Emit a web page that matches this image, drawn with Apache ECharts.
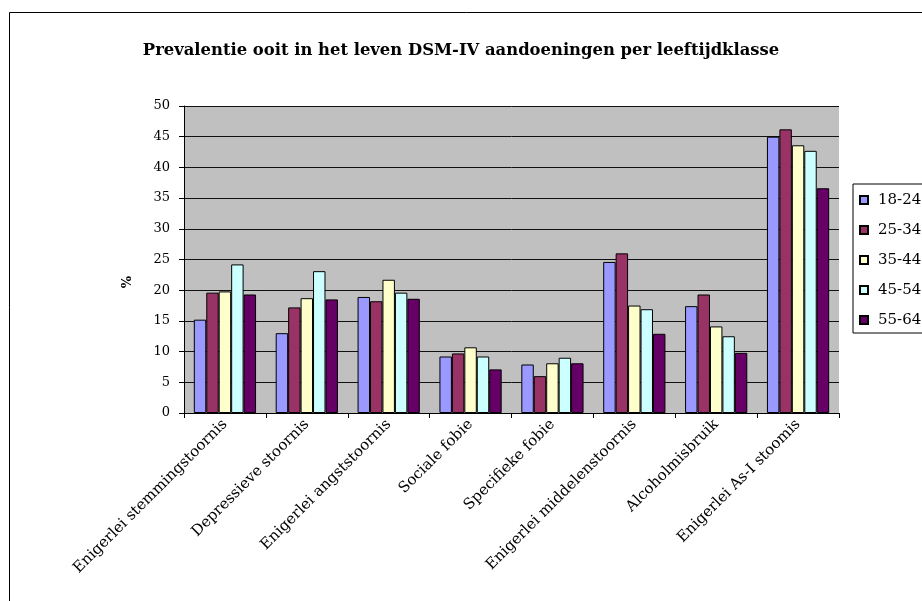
<!DOCTYPE html>
<html>
<head>
<meta charset="utf-8">
<script src="https://cdn.jsdelivr.net/npm/echarts@6/dist/echarts.min.js"></script>
<style>
  html, body { margin: 0; padding: 0; background: #fff; }
  #chart { width: 922px; height: 601px; }
</style>
</head>
<body>
<div id="chart"></div>
<script>
// Lifetime prevalence (%) of DSM-IV disorders, per age class
const categories = [
  'Enigerlei stemmingstoornis',
  'Depressieve stoornis',
  'Enigerlei angststoornis',
  'Sociale fobie',
  'Specifieke fobie',
  'Enigerlei middelenstoornis',
  'Alcoholmisbruik',
  'Enigerlei As-I stoomis'
];
const ageClasses = ['18-24', '25-34', '35-44', '45-54', '55-64'];
const age18_24 = [15.2, 13.0, 18.9, 9.2, 7.9, 24.6, 17.4, 45.0];
const age25_34 = [19.6, 17.2, 18.2, 9.7, 6.0, 26.0, 19.3, 46.2];
const age35_44 = [19.8, 18.7, 21.7, 10.7, 8.1, 17.5, 14.1, 43.6];
const age45_54 = [24.2, 23.1, 19.6, 9.2, 9.0, 16.9, 12.5, 42.7];
const age55_64 = [19.3, 18.5, 18.6, 7.1, 8.1, 12.9, 9.8, 36.6];
const yTicks = [0, 5, 10, 15, 20, 25, 30, 35, 40, 45, 50];

const seriesValues = [age18_24, age25_34, age35_44, age45_54, age55_64];
const seriesColors = ['#9999FF', '#993366', '#FFFFCC', '#CCFFFF', '#660066'];
const serif = '"DejaVu Serif", "Liberation Serif", serif';

const chart = echarts.init(document.getElementById('chart'), null, { renderer: 'canvas' });

chart.setOption({
  animation: false,
  backgroundColor: '#ffffff',
  title: {
    text: 'Prevalentie ooit in het leven DSM-IV aandoeningen per leeftijdklasse',
    left: 'center',
    top: 38,
    textStyle: { fontFamily: serif, fontSize: 16.4, fontWeight: 'bold', color: '#000' }
  },
  legend: {
    orient: 'vertical',
    left: 853,
    top: 184,
    icon: 'rect',
    itemWidth: 8,
    itemHeight: 8,
    itemGap: 14,
    padding: [8, 40, 5, 6],
    borderColor: '#000',
    borderWidth: 1,
    backgroundColor: '#fff',
    data: ageClasses,
    textStyle: { fontFamily: serif, fontSize: 15, color: '#000', lineHeight: 16, padding: [0, 0, 0, 5] }
  },
  grid: { left: 184, top: 106, right: 83, bottom: 188, backgroundColor: '#C0C0C0', show: true, borderWidth: 0 },
  xAxis: {
    type: 'category',
    data: categories,
    axisLine: { lineStyle: { color: '#000', width: 1 } },
    axisTick: { show: true, length: 5, lineStyle: { color: '#000' } },
    axisLabel: {
      rotate: 45,
      margin: 9,
      fontFamily: serif,
      fontSize: 15,
      color: '#000',
      interval: 0
    }
  },
  yAxis: {
    type: 'value',
    min: yTicks[0],
    max: yTicks[yTicks.length - 1],
    interval: 5,
    axisLine: { show: true, lineStyle: { color: '#000', width: 1 } },
    axisTick: { show: true, length: 5, lineStyle: { color: '#000' } },
    axisLabel: { fontFamily: serif, fontSize: 13, color: '#000', margin: 14 },
    splitLine: { show: true, lineStyle: { color: '#111', width: 1 } }
  },
  series: ageClasses.map((name, i) => ({
    name: name,
    type: 'bar',
    data: seriesValues[i],
    barGap: '0%',
    barCategoryGap: '24%',
    itemStyle: { color: seriesColors[i], borderColor: '#000', borderWidth: 1 }
  })),
  graphic: [
    {
      type: 'rect',
      shape: { x: 9.5, y: 12.5, width: 960, height: 640 },
      style: { fill: 'none', stroke: '#000', lineWidth: 1 },
      silent: true,
      z: -1
    },
    {
      type: 'text',
      left: 121,
      top: 276,
      rotation: Math.PI / 2,
      style: { text: '%', font: 'bold 13px "DejaVu Serif", serif', fill: '#000' }
    }
  ]
});
</script>
</body>
</html>
